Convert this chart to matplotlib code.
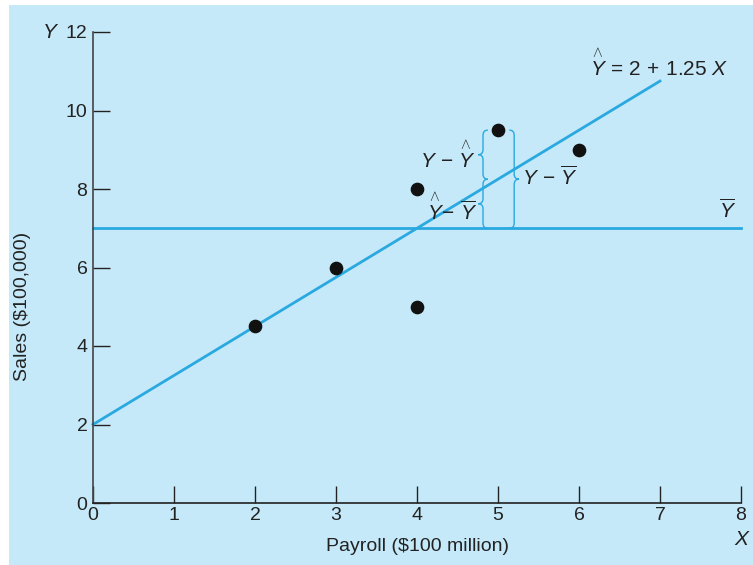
import numpy as np
import matplotlib
matplotlib.use('Agg')
from matplotlib import pyplot as plt
from matplotlib.path import Path
from matplotlib.patches import PathPatch, Rectangle

plt.rcParams['font.family'] = ['Liberation Sans', 'DejaVu Sans']
plt.rcParams['mathtext.fontset'] = 'custom'
plt.rcParams['mathtext.rm'] = 'Liberation Sans'
plt.rcParams['mathtext.it'] = 'Liberation Sans:italic'

# data
payroll = [2, 3, 4, 4, 5, 6]
sales = [4.5, 6, 8, 5, 9.5, 9]
intercept = 2.0
slope = 1.25
ybar = 7.0
xticks = [0, 1, 2, 3, 4, 5, 6, 7, 8]
yticks = [0, 2, 4, 6, 8, 10, 12]

bg = '#c6e9f9'
blue = '#29a9e0'
dark = '#222222'

YHAT = r'\overset{\wedge}{Y}'


def brace(ax, x0, y0, y1, w, r, side=1):
    # side=1 -> "{" tip points left, side=-1 -> "}" tip points right
    ym = (y0 + y1) / 2.0
    s = side
    verts = [(x0 + s*w, y0), (x0, y0), (x0, y0 + r),
             (x0, ym - r),
             (x0, ym), (x0 - s*w, ym),
             (x0, ym), (x0, ym + r),
             (x0, y1 - r),
             (x0, y1), (x0 + s*w, y1)]
    codes = [Path.MOVETO, Path.CURVE3, Path.CURVE3,
             Path.LINETO,
             Path.CURVE3, Path.CURVE3,
             Path.CURVE3, Path.CURVE3,
             Path.LINETO,
             Path.CURVE3, Path.CURVE3]
    p = PathPatch(Path(verts, codes), fill=False, edgecolor=blue, lw=1.0, zorder=3)
    ax.add_patch(p)


fig = plt.figure(figsize=(7.53, 5.65), dpi=100, facecolor='white')
fig.patches.append(Rectangle((9/753, 0), 1, 1 - 5/565, transform=fig.transFigure,
                             facecolor=bg, edgecolor='none', zorder=-10))
ax = fig.add_axes([93/753, 62/565, 648/753, 471/565])
ax.set_facecolor('none')

ax.set_xlim(0, 8)
ax.set_ylim(0, 12)

xs = np.array([0, 7])
ax.plot(xs, intercept + slope*xs, color=blue, lw=2, zorder=2, clip_on=False)
ax.plot([0, 8], [ybar, ybar], color=blue, lw=2, zorder=2, clip_on=False)
ax.scatter(payroll, sales, s=78, color='#111111', zorder=4, clip_on=False)

# braces at X = 5
yhat5 = intercept + slope*5
brace(ax, 4.815, ybar, yhat5, 0.06, 0.13, side=1)
brace(ax, 4.815, yhat5, 9.5, 0.06, 0.13, side=1)
brace(ax, 5.2, ybar, 9.5, 0.06, 0.13, side=-1)

fs = 15
ax.text(4.73, 8.85, r'$Y\,-\,' + YHAT + '$', ha='right', va='center', fontsize=fs, color=dark)
ax.text(4.74, 7.5, r'$' + YHAT + r'\!-\,\overline{Y}$', ha='right', va='center', fontsize=fs, color=dark)
ax.text(5.3, 8.3, r'$Y\,-\,\overline{Y}$', ha='left', va='center', fontsize=fs, color=dark)
ax.text(6.13, 11.2, r'$' + YHAT + r'\mathrm{\,=\,2\,+\,1.25}\ X$', ha='left', va='center',
        fontsize=fs, color=dark)
ax.text(7.84, 7.45, r'$\overline{Y}$', ha='center', va='center', fontsize=fs, color=dark)
ax.text(-0.45, 12, 'Y', ha='right', va='center', fontsize=fs, style='italic', color=dark)
ax.text(8, -0.93, 'X', ha='center', va='center', fontsize=fs, style='italic', color=dark,
        clip_on=False)

for sp in ['top', 'right']:
    ax.spines[sp].set_visible(False)
ax.spines['left'].set_color('#444444')
ax.spines['bottom'].set_color('#222222')
ax.spines['left'].set_linewidth(1.2)
ax.spines['bottom'].set_linewidth(1.2)

ax.set_xticks(xticks)
ax.set_yticks(yticks)
ax.tick_params(axis='both', direction='in', length=12, width=1, colors=dark,
               labelsize=14)
ax.tick_params(axis='x', pad=3)
ax.tick_params(axis='y', pad=4)

ax.set_xlabel('Payroll ($100 million)', fontsize=14, color=dark)
ax.xaxis.set_label_coords(0.5, -0.075)
ax.set_ylabel('Sales ($100,000)', fontsize=14, color=dark)
ax.yaxis.set_label_coords(-0.095, 0.418)

fig.savefig('out.png', dpi=100, facecolor='white')
